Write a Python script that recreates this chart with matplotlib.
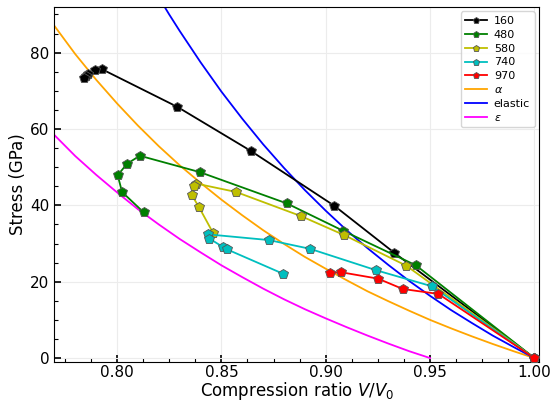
import matplotlib
matplotlib.use("Agg")
import matplotlib.pyplot as plt
from matplotlib.ticker import AutoMinorLocator, MultipleLocator

# ---- data ----
x160 = [1.000, 0.9328, 0.9041, 0.8640, 0.8289, 0.7930, 0.7896, 0.7863, 0.7853, 0.7841]
y160 = [0.0, 27.6, 39.9, 54.3, 65.8, 75.6, 75.4, 74.3, 73.9, 73.4]

x480 = [1.000, 0.9432, 0.9085, 0.8814, 0.8397, 0.8109, 0.8048, 0.8003, 0.8024, 0.8127]
y480 = [0.0, 24.3, 33.3, 40.5, 48.7, 53.0, 50.9, 47.9, 43.5, 38.2]

x580 = [1.000, 0.9386, 0.9089, 0.8881, 0.8571, 0.8380, 0.8367, 0.8358, 0.8391, 0.8460]
y580 = [0.0, 24.2, 32.2, 37.2, 43.5, 45.7, 45.1, 42.7, 39.7, 32.8]

x740 = [1.000, 0.9509, 0.9242, 0.8926, 0.8729, 0.8437, 0.8443, 0.8507, 0.8526, 0.8795]
y740 = [0.0, 18.8, 23.0, 28.6, 30.9, 32.4, 31.3, 29.1, 28.5, 22.1]

x970 = [1.000, 0.9540, 0.9369, 0.9251, 0.9072, 0.9022]
y970 = [0.0, 16.8, 18.1, 20.8, 22.5, 22.2]

x_alpha = [0.77, 0.78, 0.79, 0.80, 0.81, 0.82, 0.83, 0.84, 0.85, 0.86, 0.87, 0.88,
           0.89, 0.90, 0.91, 0.92, 0.93, 0.94, 0.95, 0.96, 0.97, 0.98, 0.99, 1.00]
y_alpha = [87.0, 79.6, 72.9, 66.7, 60.9, 55.5, 50.5, 45.9, 41.5, 37.4, 33.5, 29.9,
           26.5, 23.4, 20.4, 17.5, 14.9, 12.4, 10.0, 7.8, 5.7, 3.7, 1.8, 0.0]

x_el = [0.82, 0.825, 0.83, 0.84, 0.85, 0.86, 0.87, 0.88, 0.89, 0.90, 0.91,
        0.92, 0.93, 0.94, 0.95, 0.96, 0.97, 0.98, 0.99, 1.00]
y_el = [94.5, 90.0, 85.7, 77.5, 69.8, 62.7, 56.0, 49.8, 44.0, 38.6, 33.5,
        28.8, 24.4, 20.2, 16.3, 12.6, 9.2, 5.9, 2.9, 0.0]

x_eps = [0.77, 0.78, 0.79, 0.80, 0.81, 0.82, 0.83, 0.84, 0.85, 0.86, 0.87,
         0.88, 0.89, 0.90, 0.91, 0.92, 0.93, 0.94, 0.95]
y_eps = [58.4, 52.9, 48.0, 43.4, 39.0, 35.0, 31.2, 27.7, 24.3, 21.2, 18.2,
         15.4, 12.8, 10.4, 8.1, 5.9, 3.8, 1.8, 0.0]

series = [("160", x160, y160, "k"),
          ("480", x480, y480, "g"),
          ("580", x580, y580, "y"),
          ("740", x740, y740, "c"),
          ("970", x970, y970, "r")]

fig = plt.figure(figsize=(5.5, 4.03), dpi=100)
ax = fig.add_axes([0.099, 0.102, 0.881, 0.881])

for lab, xs, ys, c in series:
    ax.plot(xs, ys, color=c, lw=1.3, marker="p", ms=7.5, mfc=c,
            mec="#555555", mew=0.6, label=lab, zorder=3)

ax.plot(x_alpha, y_alpha, color="orange", lw=1.3, label=r"$\alpha$", zorder=2)
ax.plot(x_el, y_el, color="blue", lw=1.3, label="elastic", zorder=2)
ax.plot(x_eps, y_eps, color="magenta", lw=1.3, label=r"$\varepsilon$", zorder=2)

ax.set_xlim(0.770, 1.0022)
ax.set_ylim(-1.0, 92.0)
ax.xaxis.set_major_locator(MultipleLocator(0.05))
ax.yaxis.set_major_locator(MultipleLocator(20))
ax.xaxis.set_minor_locator(AutoMinorLocator(4))
ax.yaxis.set_minor_locator(AutoMinorLocator(4))
ax.tick_params(which="both", direction="in", labelsize=11)
ax.tick_params(which="major", length=5, width=1.2)
ax.tick_params(which="minor", length=3, width=0.8)
ax.tick_params(axis="x", pad=2.5)
ax.grid(True, which="major", color="#ececec", lw=0.8)
ax.set_axisbelow(True)

ax.set_xlabel(r"Compression ratio $V/V_0$", fontsize=12, labelpad=0)
ax.set_ylabel("Stress (GPa)", fontsize=12, labelpad=2)

ax.legend(loc="upper right", fontsize=8, frameon=True, handlelength=2.0,
          handletextpad=0.6, borderpad=0.4, labelspacing=0.35, markerscale=0.6,
          borderaxespad=0.4)

fig.savefig("out.png", dpi=100)
